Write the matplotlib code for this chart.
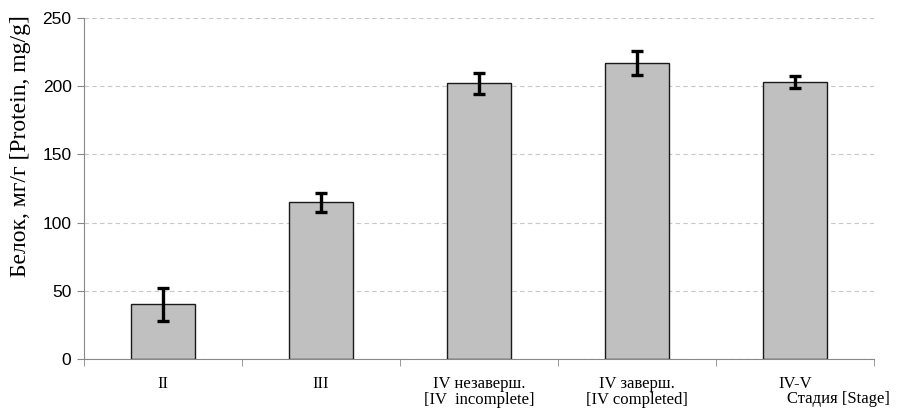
import numpy as np
import matplotlib
matplotlib.use('Agg')
import matplotlib.pyplot as plt

stages = ['II', 'III', 'IV незаверш.\n[IV  incomplete]', 'IV заверш.\n[IV completed]', 'IV-V']
protein = [40, 115, 202, 217, 203]
protein_err = [12, 7, 7.5, 9, 4.5]

plt.rcParams['font.family'] = ['Liberation Serif', 'DejaVu Serif']

fig = plt.figure(figsize=(9.06, 4.11), dpi=100)
ax = fig.add_axes([84 / 906, 52 / 411, 790 / 906, 341 / 411])

x = np.arange(len(stages))
ax.bar(x, protein, width=0.4, color='#c0c0c0', edgecolor='#1a1a1a', linewidth=1.0, zorder=2)
ax.errorbar(x, protein, yerr=protein_err, fmt='none', ecolor='black',
            elinewidth=2.4, capsize=4, capthick=2.4, zorder=3)

ax.set_xlim(-0.5, len(stages) - 0.5)
ax.set_ylim(0, 250)
ax.set_yticks(np.arange(0, 251, 50))
ax.yaxis.grid(True, linestyle=(0, (4, 3)), color='#c8c8c8', linewidth=0.8, zorder=0)
ax.set_axisbelow(True)

# category labels sit between boundary ticks
ax.set_xticks(x)
ax.set_xticklabels(stages, fontsize=12, linespacing=1.05, va='top')
ax.tick_params(axis='x', length=0, pad=12)
ax.set_xticks(np.arange(-0.5, len(stages)), minor=True)
ax.tick_params(axis='x', which='minor', length=5, color='#888888')
ax.tick_params(axis='y', length=5, color='#888888', pad=4)
for lbl in ax.get_yticklabels():
    lbl.set_family('Liberation Sans')
    lbl.set_fontsize(12.5)

for side in ['top', 'right']:
    ax.spines[side].set_visible(False)
for side in ['left', 'bottom']:
    ax.spines[side].set_color('#888888')

fig.text(21 / 906, 1 - 146 / 411, 'Белок, мг/г [Protein, mg/g]', rotation=90,
         ha='center', va='center', fontsize=17)
fig.text(838 / 906, 1 - 399 / 411, 'Стадия [Stage]', ha='center', va='center', fontsize=12)

fig.savefig('out.png', dpi=100)
